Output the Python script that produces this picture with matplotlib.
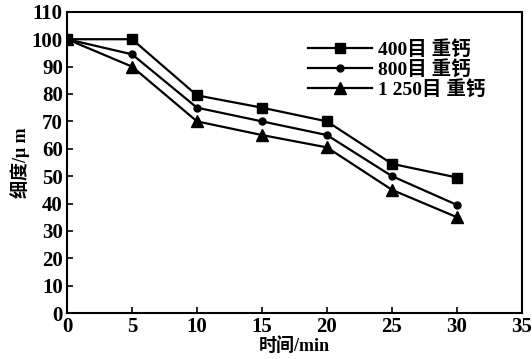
import numpy as np
import matplotlib.pyplot as plt

# Datos
tiempo = [0, 5, 10, 15, 20, 25, 30]
fineza_400 = [100, 100, 79.5, 75, 70, 54.5, 49.5]
fineza_800 = [100, 94.5, 75, 70, 65, 50, 39.5]
fineza_1250 = [100, 90, 70, 65, 60.5, 45, 35]
etiquetas = ['400目 重钙', '800目 重钙', '1 250目 重钙']

plt.rcParams['font.family'] = ['Liberation Serif', 'Noto Sans CJK SC']
plt.rcParams['font.weight'] = 'bold'

fig = plt.figure(figsize=(5.32, 3.59), dpi=100)
ax = fig.add_axes([0.126, 0.128, 0.855, 0.839])

ax.plot(tiempo, fineza_400, color='black', lw=1.6, marker='s', ms=7, label=etiquetas[0])
ax.plot(tiempo, fineza_800, color='black', lw=1.6, marker='o', ms=5, label=etiquetas[1])
ax.plot(tiempo, fineza_1250, color='black', lw=1.6, marker='^', ms=8, label=etiquetas[2])

ax.set_xlim(0, 35)
ax.set_ylim(0, 110)
ax.set_xticks(np.arange(0, 36, 5))
ax.set_yticks(np.arange(0, 111, 10))
ax.tick_params(direction='in', length=4, width=1.2, labelsize=15, pad=3)
for s in ax.spines.values():
    s.set_linewidth(1.5)

ax.set_xlabel('时间/min', fontsize=13, fontweight='bold', labelpad=0)
ax.set_ylabel('细度/μ m', fontsize=13, fontweight='bold', labelpad=1)

ax.legend(loc='upper right', bbox_to_anchor=(0.958, 0.965), frameon=False, fontsize=14,
          handlelength=3.3, handletextpad=0.3, labelspacing=0.05)

plt.savefig('out.png', dpi=100)
